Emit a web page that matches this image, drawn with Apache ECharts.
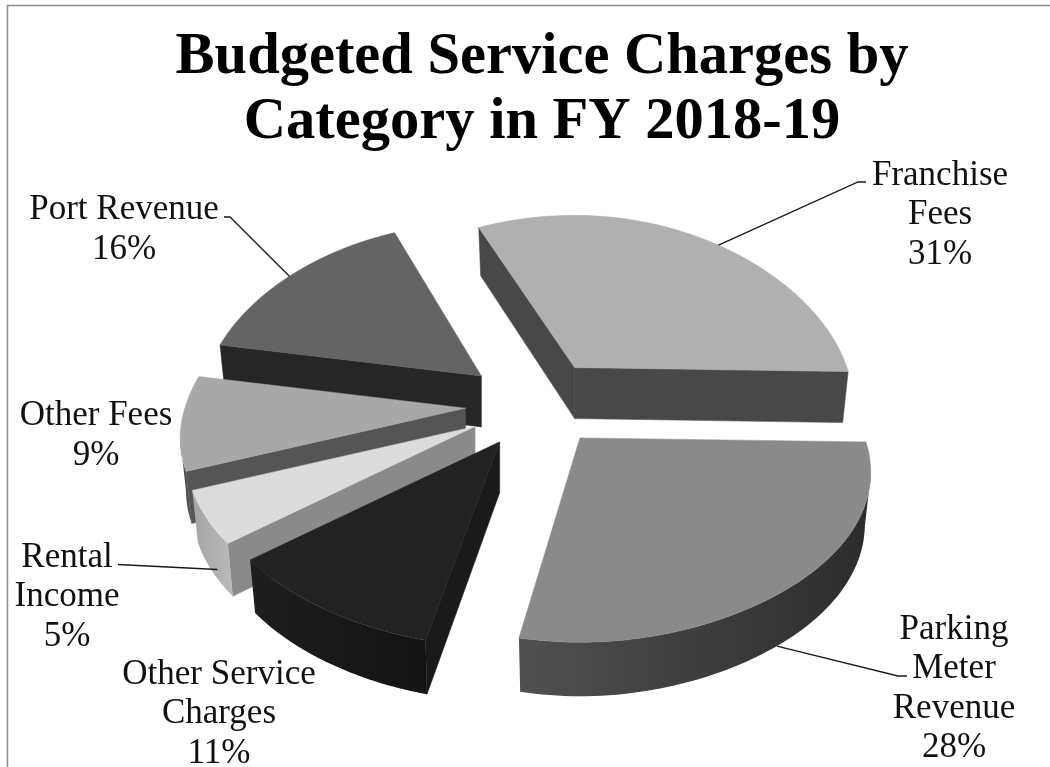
<!DOCTYPE html>
<html><head><meta charset="utf-8">
<style>html,body{margin:0;padding:0;background:#fff}#c{width:1050px;height:767px}</style>
<script src="https://cdn.jsdelivr.net/npm/echarts@6/dist/echarts.min.js"></script></head>
<body><div id="c"></div>
<script>
// ---- data ----
const categories = ['Franchise Fees','Parking Meter Revenue','Other Service Charges','Rental Income','Other Fees','Port Revenue'];
const shares = [31,28,11,5,9,16];
const titleLines = ['Budgeted Service Charges by','Category in FY 2018-19'];
const labelLines = [['Franchise','Fees','31%'],['Parking','Meter','Revenue','28%'],['Other Service','Charges','11%'],['Rental','Income','5%'],['Other Fees','9%'],['Port Revenue','16%']];
// ---- style ----
const topColors = ['#b0b0b0','#8a8a8a','#222222','#dcdcdc','#a8a8a8','#646464'];
const cutColors = ['#484848','#484848','#1a1a1a','#8a8a8a','#555555','#262626'];
const rimColors = [['#484848','#484848'],['#505050','#2c2c2c'],['#1e1e1e','#131313'],['#a4a4a4','#bababa'],['#4a4a4a','#555555'],['#262626','#262626']];
const drawRank = [1,6,5,4,3,2];
// ---- layout ----
const FONT = '"Liberation Serif",serif';
const C = {x:535.3,y:404,ex:70,ey:44,rx:280,p:0.18,depth:51,start:-21.6};
const edgeTweak = [[-2.5,0],[0,-0.7],[1.5,0],[0,0],[0,0],[0,0]];
const labelPos = [[940,215],[954,689],[219,714],[67,597],[96,436],[124,230]];
const leaderAngles = [37,143,null,236,null,309];
const leaderDepth = [0,1,0,0.8,0,0];
const leaderKnee = [[[866,182],[858,182]],[[907,676],[898,676]],null,[[118,564.5]],null,[[224,217],[230,217]]];

const rad = d => d*Math.PI/180;
const total = shares.reduce((a,b)=>a+b,0);
function sliceAngles(i){let a=C.start;for(let k=0;k<i;k++)a+=shares[k]/total*360;return [a,a+shares[i]/total*360];}
function geom(i){
  const [a0,a1]=sliceAngles(i),m=rad((a0+a1)/2);
  const apex=[C.x+C.ex*Math.sin(m),C.y-C.ey*Math.cos(m)];
  const sc=1-0.028*Math.cos(m);
  const rim=(deg,down)=>{
    const X=Math.sin(rad(deg)),Y=-Math.cos(rad(deg)),w=1/(1-C.p*Y);
    const ky=Y<0?172-12*Y:160,side=Math.max(X,0);
    let dx=C.rx*X*w*sc,dy=ky*Y*w*sc+4*side*side+(Y>0?5*Math.pow(Y,8):0);
    if(down){dx=dx*(1-0.02*down);dy+=(C.depth+3*Y)*down;}
    return [apex[0]+dx,apex[1]+dy];
  };
  return {a0:a0+edgeTweak[i][0],a1:a1+edgeTweak[i][1],apex,rim,apexB:[apex[0],apex[1]+C.depth]};
}
function renderSlice(params,api){
  const i=params.dataIndex,g=geom(i),kids=[],z=drawRank[i]*10;
  const poly=(points,fill,o)=>kids.push({type:'polygon',z2:z+o,shape:{points},style:{fill,stroke:typeof fill==='string'?fill:null,lineWidth:0.5}});
  const p0=g.rim(g.a0),p1=g.rim(g.a1);
  if(p0[0]<g.apex[0])poly([g.apex,p0,g.rim(g.a0,1),g.apexB],cutColors[i],0);
  if(p1[0]>g.apex[0])poly([p1,g.apex,g.apexB,g.rim(g.a1,1)],cutColors[i],0);
  const N=80,run=[];
  for(let k=0;k<=N;k++){const t=g.a0+(g.a1-g.a0)*k/N;const a=g.rim(t),b=g.rim(t+0.5);
    if(k===N? (a[0]<g.rim(t-0.5)[0]) : b[0]<a[0])run.push(t);}
  if(run.length>1){
    const pts=run.map(t=>g.rim(t)).concat(run.slice().reverse().map(t=>g.rim(t,1)));
    poly(pts,new echarts.graphic.LinearGradient(0,0,1,0,[{offset:0,color:rimColors[i][0]},{offset:1,color:rimColors[i][1]}]),1);
  }
  const top=[g.apex];
  for(let k=0;k<=N;k++)top.push(g.rim(g.a0+(g.a1-g.a0)*k/N));
  poly(top,topColors[i],2);
  if(leaderKnee[i]){
    const end=g.rim(leaderAngles[i],leaderDepth[i]);
    kids.push({type:'polyline',z2:100,shape:{points:leaderKnee[i].concat([end])},style:{fill:null,stroke:'#1a1a1a',lineWidth:1.3}});
  }
  kids.push({type:'text',z2:101,x:labelPos[i][0],y:labelPos[i][1],style:{text:labelLines[i].join('\n'),font:'35px '+FONT,lineHeight:39.5,fill:'#111',align:'center',verticalAlign:'middle'}});
  return {type:'group',children:kids};
}
const chart=echarts.init(document.getElementById('c'),null,{renderer:'canvas'});
chart.setOption({
  animation:false,
  backgroundColor:'#fff',
  title:{text:titleLines.join('\n'),left:537,top:20,textAlign:'center',
    textStyle:{fontFamily:FONT,fontWeight:'bold',fontSize:58.5,lineHeight:65,color:'#000'}},
  graphic:[{type:'polyline',silent:true,shape:{points:[[7.5,767],[7.5,5.5],[1050,5.5]]},style:{fill:null,stroke:'#8c8c8c',lineWidth:1.5}}],
  series:[{type:'custom',coordinateSystem:'none',silent:true,
    data:categories.map((n,i)=>({name:n,value:shares[i]})),
    renderItem:renderSlice}]
});
</script></body></html>
